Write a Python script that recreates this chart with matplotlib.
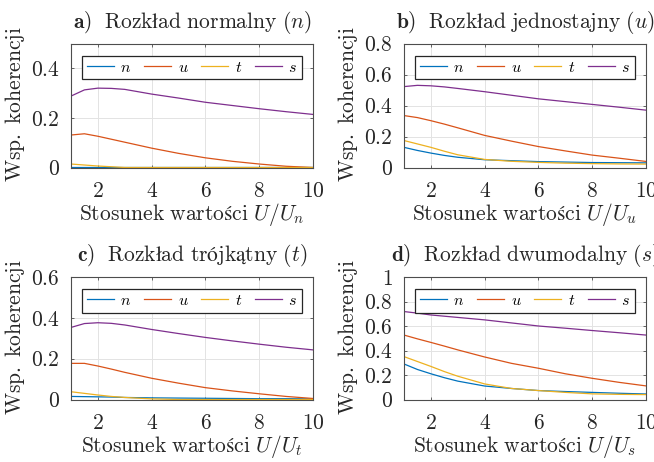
import numpy as np
import matplotlib
matplotlib.use("Agg")
import matplotlib.pyplot as plt

plt.rcParams['font.family'] = ['cmr10', 'DejaVu Serif']
plt.rcParams['mathtext.fontset'] = 'cm'
plt.rcParams['mathtext.fallback'] = 'stix'
plt.rcParams['axes.formatter.use_mathtext'] = True
plt.rcParams['axes.unicode_minus'] = False

x = [1, 1.5, 2, 2.5, 3, 4, 5, 6, 7, 8, 9, 10]

# Panel a) normal
a_n = [0.001] * 12
a_u = [0.131, 0.136, 0.126, 0.114, 0.102, 0.078, 0.057, 0.039, 0.025, 0.014, 0.005, 0.0]
a_t = [0.014, 0.010, 0.006, 0.003, 0.0, 0.0, 0.0, 0.0, 0.0, 0.0, 0.0, 0.0]
a_s = [0.288, 0.313, 0.320, 0.319, 0.315, 0.296, 0.280, 0.263, 0.250, 0.237, 0.225, 0.214]

# Panel b) uniform
b_n = [0.130, 0.110, 0.093, 0.078, 0.066, 0.050, 0.044, 0.038, 0.035, 0.032, 0.031, 0.030]
b_t = [0.174, 0.152, 0.130, 0.105, 0.082, 0.052, 0.040, 0.033, 0.028, 0.025, 0.023, 0.022]
b_u = [0.335, 0.322, 0.302, 0.280, 0.256, 0.207, 0.170, 0.135, 0.107, 0.080, 0.060, 0.039]
b_s = [0.522, 0.530, 0.527, 0.520, 0.510, 0.489, 0.466, 0.443, 0.425, 0.407, 0.389, 0.370]

# Panel c) triangular
c_n = [0.015, 0.014, 0.013, 0.012, 0.010, 0.008, 0.007, 0.006, 0.005, 0.004, 0.004, 0.003]
c_t = [0.038, 0.030, 0.022, 0.015, 0.010, 0.003, 0.0, 0.0, 0.0, 0.0, 0.0, 0.0]
c_u = [0.177, 0.177, 0.164, 0.149, 0.133, 0.104, 0.080, 0.058, 0.042, 0.028, 0.015, 0.005]
c_s = [0.353, 0.372, 0.376, 0.373, 0.365, 0.343, 0.323, 0.304, 0.287, 0.271, 0.256, 0.243]

# Panel d) bimodal
d_n = [0.290, 0.245, 0.210, 0.178, 0.150, 0.110, 0.090, 0.073, 0.065, 0.058, 0.051, 0.045]
d_t = [0.350, 0.310, 0.270, 0.228, 0.190, 0.127, 0.090, 0.073, 0.058, 0.046, 0.042, 0.040]
d_u = [0.526, 0.495, 0.466, 0.436, 0.405, 0.347, 0.295, 0.255, 0.210, 0.173, 0.140, 0.111]
d_s = [0.718, 0.705, 0.690, 0.680, 0.670, 0.650, 0.625, 0.600, 0.582, 0.563, 0.545, 0.526]

panel_letters = ["a)", "b)", "c)", "d)"]
panel_names = ["Rozkład normalny", "Rozkład jednostajny", "Rozkład trójkątny",
               "Rozkład dwumodalny"]
panel_syms = ["n", "u", "t", "s"]
xlabel_text = "Stosunek wartości"
ylabel_text = "Wsp. koherencji"
ylims = [0.5, 0.8, 0.6, 1.0]
yticks = [[0, 0.2, 0.4], [0, 0.2, 0.4, 0.6, 0.8], [0, 0.2, 0.4, 0.6],
          [0, 0.2, 0.4, 0.6, 0.8, 1]]
ylabs = [["0", "0.2", "0.4"], ["0", "0.2", "0.4", "0.6", "0.8"],
         ["0", "0.2", "0.4", "0.6"], ["0", "0.2", "0.4", "0.6", "0.8", "1"]]
xticks = [2, 4, 6, 8, 10]
series_names = ["n", "u", "t", "s"]
colors = ["#0072BD", "#D95319", "#EDB120", "#7E2F8E"]
data = [[a_n, a_u, a_t, a_s], [b_n, b_u, b_t, b_s],
        [c_n, c_u, c_t, c_s], [d_n, d_u, d_t, d_s]]


def rm(s):
    return r"\mathrm{" + s.replace(" ", r"\ ") + "}"


fig = plt.figure(figsize=(6.54, 4.62), dpi=100)
W, H = 654, 462
boxes = [(71, 43.5, 313, 167.5), (404, 43.5, 646, 167.5),
         (71, 277, 313, 399.5), (404, 277, 646, 399.5)]
FS = 15.5
TXT = "#262626"

for i, (l, t, r, b) in enumerate(boxes):
    ax = fig.add_axes([l / W, 1 - b / H, (r - l) / W, (b - t) / H])
    for k in range(4):
        ax.plot(x, data[i][k], color=colors[k], lw=0.9,
                label="$" + series_names[k] + "$")
    ax.set_xlim(1, 10)
    ax.set_ylim(0, ylims[i])
    ax.set_xticks(xticks)
    ax.set_xticklabels(["$" + str(v) + "$" for v in xticks])
    ax.set_yticks(yticks[i])
    ax.set_yticklabels(["$" + s + "$" for s in ylabs[i]])
    ax.grid(True, color="#e3e3e3", lw=0.7)
    ax.set_axisbelow(True)
    for sp in ax.spines.values():
        sp.set_color("#4d4d4d")
        sp.set_linewidth(0.8)
    ax.tick_params(direction="in", length=2.5, width=0.6, color="#4d4d4d",
                   labelsize=FS, labelcolor=TXT, top=True, right=True)
    ax.tick_params(axis="y", pad=8)
    ax.tick_params(axis="x", pad=10)
    title = (r"$\mathbf{" + panel_letters[i] + r"}\ \ " + rm(panel_names[i]) +
             r"\ (" + panel_syms[i] + ")$")
    ax.set_title(title, fontsize=FS, color=TXT, pad=11.5)
    ax.set_xlabel("$" + rm(xlabel_text) + r"\ U/U_" + panel_syms[i] + "$",
                  fontsize=FS, color=TXT, labelpad=0)
    ax.set_ylabel("$" + rm(ylabel_text) + "$", fontsize=FS, color=TXT)
    ax.yaxis.set_label_coords(-0.18, 0.51)
    leg = ax.legend(loc="center", bbox_to_anchor=(0.5, 0.806), ncol=4, fontsize=11.5,
                    frameon=True, fancybox=False, handlelength=1.7, handletextpad=0.4,
                    columnspacing=0.8, borderpad=0.3, borderaxespad=0)
    leg.get_frame().set_edgecolor("#262626")
    leg.get_frame().set_linewidth(0.9)
    leg.get_frame().set_alpha(1)

fig.savefig("out.png", dpi=100)
